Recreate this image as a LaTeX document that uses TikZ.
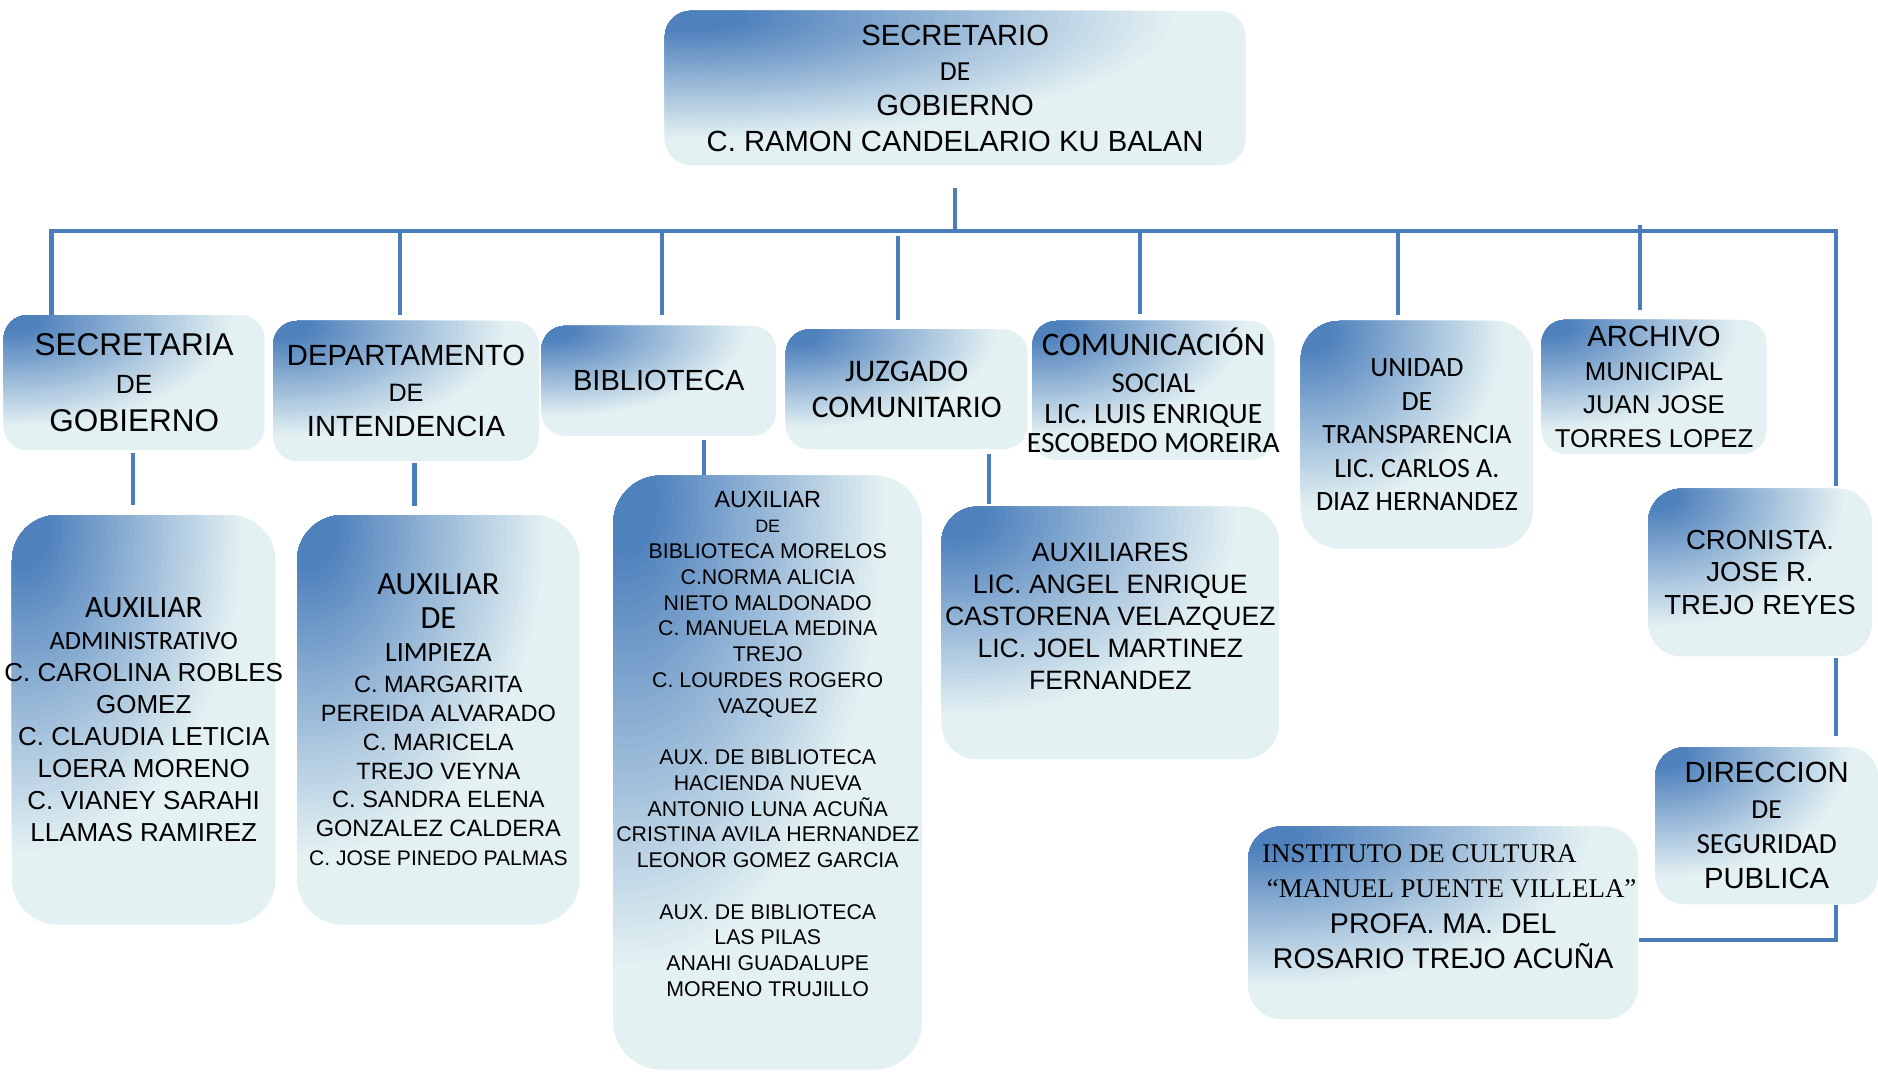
\documentclass[tikz,border=0pt]{standalone}
\usepackage{fontspec}
\setmainfont{Liberation Sans}
\newfontfamily\calibri{Carlito}
\newfontfamily\timesf{Liberation Serif}
\newcommand{\fsz}[2]{\fontsize{#1}{#2}\selectfont}
\definecolor{linkblue}{RGB}{74,126,187}
\definecolor{boxdark}{RGB}{79,129,189}
\definecolor{boxlight}{RGB}{228,241,243}
\newcommand{\boxfade}{%
  \pgfpointdiff{\pgfpointanchor{path picture bounding box}{south west}}{\pgfpointanchor{path picture bounding box}{north east}}%
  \pgfgetlastxy{\boxw}{\boxh}%
  \foreach \k in {40,39,...,1} {
    \pgfmathsetmacro\fr{\k/40}
    \pgfmathsetmacro\pct{min(100,100*(1-\fr)/0.88)}
    \fill [boxdark!\pct!boxlight] ([shift={(0.04*\boxw,-0.04*\boxh)}]path picture bounding box.north west)
      ellipse [x radius=\fr*0.85*\boxw, y radius=\fr*0.8*\boxh];
  }}
\tikzset{box/.style={fill=boxlight, path picture={\boxfade}, rounded corners=20pt, inner xsep=-20pt, inner ysep=0pt, align=center, text=black},
         link/.style={draw=linkblue, line width=3.5pt}}

\begin{document}
\begin{tikzpicture}[x=1pt,y=-1pt]
\useasboundingbox (0,0) rectangle (1568,895);
\node [box, rounded corners=22pt, minimum width=485pt, minimum height=129pt, font=\fsz{24.4}{29.5}] (sec) at (797.5,73.5) {SECRETARIO\\ {\calibri\fsz{23}{29.5}DE}\\ GOBIERNO\\ C. RAMON CANDELARIO KU BALAN};
\node [box, minimum width=218pt, minimum height=113pt, font=\fsz{26.3}{32}] (sgob) at (112,319.5) {SECRETARIA\\ {\fsz{22}{32}DE}\\ GOBIERNO};
\node [box, minimum width=222pt, minimum height=117pt, font=\fsz{24.4}{29.5}] (dint) at (339,326.5) {DEPARTAMENTO\\ {\fsz{21}{29.5}DE}\\ INTENDENCIA};
\node [box, minimum width=196pt, minimum height=92pt, font=\fsz{24.3}{29}] (bibl) at (550,318) {BIBLIOTECA};
\node [box, minimum width=202pt, minimum height=100pt, font=\calibri\fsz{26.3}{30}] (juzg) at (757,325) {JUZGADO\\ COMUNITARIO};
\node [box, minimum width=202pt, minimum height=116pt, font=\calibri\fsz{24.6}{24.5}] (csoc) at (963,326) {{\fsz{27.5}{24.5}COMUNICACIÓN}\\[6pt] {\fsz{24}{24.5}SOCIAL}\\[1.5pt] LIC. LUIS ENRIQUE\\ ESCOBEDO MOREIRA};
\node [box, rounded corners=32pt, minimum width=194pt, minimum height=190pt, font=\calibri\fsz{23.3}{28}] (utra) at (1183,363) {UNIDAD\\ DE\\ TRANSPARENCIA\\ LIC. CARLOS A.\\ DIAZ HERNANDEZ};
\node [box, minimum width=188pt, minimum height=112pt, font=\fsz{21.5}{28}] (arch) at (1381,323) {{\fsz{24.4}{28}ARCHIVO}\\ MUNICIPAL\\ JUAN JOSE\\ TORRES LOPEZ};

\node [box, rounded corners=38pt, minimum width=220pt, minimum height=342pt, font=\fsz{21.7}{26.7}] (aadm) at (120,601) {{\calibri\fsz{26}{26.7}AUXILIAR}\\ {\calibri\fsz{22}{26.7}ADMINISTRATIVO}\\ C. CAROLINA ROBLES\\ GOMEZ\\ C. CLAUDIA LETICIA\\ LOERA MORENO\\ C. VIANEY SARAHI\\ LLAMAS RAMIREZ};
\node [box, rounded corners=38pt, minimum width=236pt, minimum height=342pt, font=\fsz{19.7}{24}] (alim) at (366,601) {{\calibri\fsz{27}{24}AUXILIAR}\\[4pt] {\calibri\fsz{27}{24}DE}\\[4pt] {\calibri\fsz{23.3}{24}LIMPIEZA}\\[2pt] C. MARGARITA\\ PEREIDA ALVARADO\\ C. MARICELA\\ TREJO VEYNA\\ C. SANDRA ELENA\\ GONZALEZ CALDERA\\ {\fsz{17.6}{24}C. JOSE PINEDO PALMAS}};
\node [box, rounded corners=40pt, minimum width=258pt, minimum height=496pt] (abib) at (641,645) {};
\node [align=center, font=\fsz{17.8}{21.5}] (abib-t) at ([yshift=24pt]abib.center) {{\fsz{19.5}{21.5}AUXILIAR}\\ {\fsz{15}{21.5}DE}\\ BIBLIOTECA MORELOS\\ C.NORMA ALICIA\\ NIETO MALDONADO\\ C. MANUELA MEDINA\\ TREJO\\ C. LOURDES ROGERO\\ VAZQUEZ\\[21.5pt] AUX. DE BIBLIOTECA\\ HACIENDA NUEVA\\ ANTONIO LUNA ACUÑA\\ CRISTINA AVILA HERNANDEZ\\ LEONOR GOMEZ GARCIA\\[21.5pt] AUX. DE BIBLIOTECA\\ LAS PILAS\\ ANAHI GUADALUPE\\ MORENO TRUJILLO};
\node [box, rounded corners=30pt, minimum width=282pt, minimum height=211pt] (auxs) at (927,528.5) {};
\node [align=center, font=\fsz{22.2}{26.8}] (auxs-t) at ([yshift=14pt]auxs.center) {AUXILIARES\\ LIC. ANGEL ENRIQUE\\ CASTORENA VELAZQUEZ\\ LIC. JOEL MARTINEZ\\ FERNANDEZ};
\node [box, rounded corners=28pt, minimum width=187pt, minimum height=140pt, font=\fsz{23}{27.5}] (cron) at (1469.5,478) {CRONISTA.\\ JOSE R.\\ TREJO REYES};
\node [box, rounded corners=24pt, minimum width=186pt, minimum height=131pt, font=\fsz{24.4}{29.5}] (dsp) at (1475,689.5) {DIRECCION\\ {\calibri\fsz{23}{29.5}DE}\\ {\calibri SEGURIDAD}\\ PUBLICA};
\node [box, rounded corners=28pt, minimum width=326pt, minimum height=161pt] (inst) at (1205,770.5) {};
\node [align=center, font=\fsz{23.8}{29.7}] (inst-t) at ([yshift=13.5pt]inst.center) {{\timesf\fsz{22.5}{29.7}INSTITUTO DE CULTURA\kern40pt}\\ {\timesf\fsz{22.5}{29.7}\kern14pt“MANUEL PUENTE VILLELA”}\\ PROFA. MA. DEL\\ ROSARIO TREJO ACUÑA};

\coordinate (b1) at (43,193);
\coordinate (b2) at (334,193);
\coordinate (b3) at (553,193);
\coordinate (b4) at (750,193);
\coordinate (b5) at (952,193);
\coordinate (b6) at (1167,193);
\coordinate (b7) at (1369,193);
\coordinate (bR) at (1533,193);
\coordinate (d1) at (111,0);
\coordinate (d2) at (346,0);
\coordinate (d3) at (588,0);
\coordinate (d4) at (826,0);
\coordinate (r4) at (1533,785);

\draw [link] ([yshift=-19pt]sec.south) -- (sec.south |- b1);
\draw [link, shorten >=2pt] (b1 |- sgob.north) -- (b1) -- (bR) -- (bR |- cron.north);
\draw [link, shorten >=5pt] (b2) -- (b2 |- dint.north);
\draw [link, shorten >=9pt] (b3) -- (b3 |- bibl.north);
\draw [link, shorten <=4pt, shorten >=8pt] (b4) -- (b4 |- juzg.north);
\draw [link, shorten >=6pt] (b5) -- (b5 |- csoc.north);
\draw [link, shorten >=5pt] (b6) -- (b6 |- utra.north);
\draw [link, shorten <=-5pt, shorten >=8pt] (b7) -- (b7 |- arch.north);
\draw [link, shorten <=2pt, shorten >=8pt] (d1 |- sgob.south) -- (d1 |- aadm.north);
\draw [link, shorten <=1pt, shorten >=7pt] (d2 |- dint.south) -- (d2 |- alim.north);
\draw [link, shorten <=3pt] (d3 |- bibl.south) -- (d3 |- abib.north);
\draw [link, shorten <=4pt, shorten >=2pt] (d4 |- juzg.south) -- (d4 |- auxs.north);
\draw [link, shorten <=1pt, shorten >=9pt] (bR |- cron.south) -- (bR |- dsp.north);
\draw [link] (bR |- dsp.south) -- (r4) -- (r4 -| inst.east);
\end{tikzpicture}
\end{document}
